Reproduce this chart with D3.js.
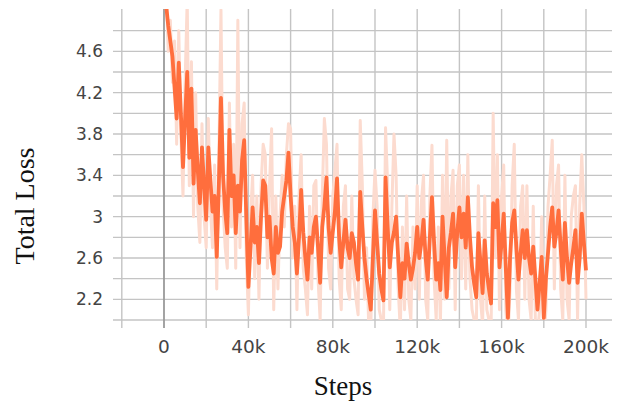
<!DOCTYPE html>
<html><head><meta charset="utf-8">
<script src="https://cdn.jsdelivr.net/npm/d3@7"></script>
<style>body{margin:0;background:#fff}</style></head>
<body><svg id="c" width="617" height="403"></svg>
<script>
const stepSize = 1000;
const smoothed = [5.05,4.85,4.70,4.55,4.25,3.95,4.49,4.00,3.48,3.95,
4.40,3.57,4.24,3.32,3.84,3.45,3.13,3.67,3.30,2.97,
3.67,3.35,3.05,3.20,2.61,3.30,4.15,3.40,3.05,2.84,
3.84,3.20,3.40,2.84,3.30,3.05,3.55,3.74,3.00,2.32,
2.70,3.09,2.75,2.90,2.55,3.00,3.35,3.30,2.80,3.00,
2.60,2.45,2.90,2.65,2.71,3.05,3.20,3.35,3.62,3.20,
2.90,2.75,2.45,2.80,3.26,2.85,2.60,2.39,2.80,2.65,
2.90,3.00,2.70,2.36,2.90,3.10,3.38,2.90,2.65,2.85,
3.05,3.37,2.80,2.51,2.75,2.97,2.70,2.60,2.84,2.75,
2.55,2.39,3.24,2.90,2.60,2.40,2.25,2.10,2.60,3.06,
2.75,2.45,2.30,2.19,3.38,2.90,2.51,2.75,2.85,3.00,
2.60,2.22,2.55,2.40,2.74,2.55,2.39,2.50,2.65,2.90,
2.60,2.75,2.97,2.60,2.39,2.80,3.19,2.75,2.39,2.55,
2.29,3.00,2.60,2.22,2.70,2.85,3.03,2.51,2.85,3.09,
2.80,3.03,2.70,3.19,2.80,2.51,2.35,2.22,2.84,2.55,
2.26,2.77,2.45,2.30,2.16,3.13,2.90,3.16,2.51,2.75,
3.03,2.50,2.02,2.60,2.94,3.06,2.70,2.39,2.65,2.87,
2.60,2.87,2.60,2.45,2.71,2.40,2.10,2.35,2.61,2.02,
2.40,2.65,2.90,3.09,2.71,2.85,3.06,2.70,2.39,2.94,
2.60,2.36,2.55,2.70,2.87,2.36,2.60,3.03,2.75,2.48];
const raw = [5.2,4.6,4.9,4.3,4.7,3.7,4.8,3.8,3.2,4.3,
5.1,3.3,4.5,3.0,4.2,3.1,2.75,3.9,3.0,2.7,
3.95,3.1,2.7,3.5,2.3,3.6,5.0,3.1,2.7,2.5,
4.1,2.9,3.7,2.5,4.9,2.7,3.9,4.1,2.6,2.05,
3.0,3.4,2.4,3.2,2.2,3.3,3.7,3.6,2.5,3.3,
3.85,2.1,3.2,2.3,3.0,3.4,2.9,3.6,3.9,3.85,
2.6,3.1,2.1,3.2,3.6,2.5,2.3,2.05,3.1,2.3,
3.3,3.35,2.4,2.0,3.2,3.95,3.7,2.5,2.3,3.2,
3.45,3.7,2.4,2.1,3.1,3.3,2.3,2.2,3.2,2.4,
2.2,2.05,3.93,3.3,2.2,2.7,1.95,1.9,3.0,3.45,
3.1,2.1,2.0,1.9,3.86,3.3,2.1,3.1,3.8,3.4,
2.3,1.9,2.9,2.1,3.2,2.2,2.0,2.9,2.3,3.3,
2.2,3.15,3.4,2.2,2.0,3.2,3.69,2.4,2.0,2.9,
1.95,3.4,2.2,3.74,2.3,3.2,3.45,2.1,3.3,3.5,
2.4,3.4,2.3,3.6,2.4,2.1,2.0,1.9,3.3,2.2,
1.95,3.2,2.1,2.0,1.85,4.0,2.6,3.6,2.1,3.2,
3.5,2.1,1.8,2.3,3.3,3.7,2.3,2.0,3.1,3.3,
2.2,3.3,2.2,2.0,3.1,2.0,1.85,2.1,3.0,1.8,
2.1,3.1,3.4,3.74,2.3,3.3,3.5,2.3,2.0,3.4,
2.2,2.0,3.0,3.2,3.3,2.0,3.1,3.6,3.1,2.2];
const xTicks = [0,40000,80000,120000,160000,200000];
const xTickLabels = ["0","40k","80k","120k","160k","200k"];
const xGrid = [-20000,0,20000,40000,60000,80000,100000,120000,140000,160000,180000,200000];
const yTicks = [2.2,2.6,3.0,3.4,3.8,4.2,4.6];
const yTickLabels = ["2.2","2.6","3","3.4","3.8","4.2","4.6"];
const yGrid = [2.0,2.2,2.4,2.6,2.8,3.0,3.2,3.4,3.6,3.8,4.0,4.2,4.4,4.6,4.8];

const svg = d3.select("#c");
const L = 113, R = 612, T = 9, B = 320;
const x = d3.scaleLinear().domain([0,200000]).range([164,586]);
const y = d3.scaleLinear().domain([2.0,5.0]).range([B,T+1]);

svg.append("g").selectAll("line").data(yGrid).join("line")
  .attr("x1",L).attr("x2",R).attr("y1",d=>y(d)).attr("y2",d=>y(d))
  .attr("stroke","#c4c4c4").attr("stroke-width",1.4);
svg.append("g").selectAll("line").data(xGrid).join("line")
  .attr("x1",d=>x(d)).attr("x2",d=>x(d)).attr("y1",T).attr("y2",B+8)
  .attr("stroke",d=>d===0?"#9a9a9a":"#c4c4c4").attr("stroke-width",d=>d===0?1.8:1.4);

svg.append("defs").append("clipPath").attr("id","clip").append("rect")
  .attr("x",L).attr("y",T).attr("width",R-L).attr("height",B-T);

const pts = a => a.map((v,i)=>[(i+1)*stepSize, v]);
const line = d3.line().x(d=>x(d[0])).y(d=>y(d[1]));
const g = svg.append("g").attr("clip-path","url(#clip)");
g.append("path").attr("d",line(pts(raw))).attr("fill","none")
  .attr("stroke","#fcdbcf").attr("stroke-width",3).attr("stroke-linejoin","round");
g.append("path").attr("d",line(pts(smoothed))).attr("fill","none")
  .attr("stroke","#ff6e3d").attr("stroke-width",3.8).attr("stroke-linejoin","round");

svg.append("g").selectAll("text").data(yTicks).join("text")
  .attr("x",103).attr("y",d=>y(d)).attr("dy","0.36em").attr("text-anchor","end")
  .attr("font-family","DejaVu Sans, sans-serif").attr("font-size",17).attr("fill","#444")
  .text((d,i)=>yTickLabels[i]);
svg.append("g").selectAll("text").data(xTicks).join("text")
  .attr("x",d=>x(d)).attr("y",353).attr("text-anchor","middle")
  .attr("font-family","DejaVu Sans, sans-serif").attr("font-size",18.5).attr("fill","#444")
  .text((d,i)=>xTickLabels[i]);

svg.append("text").attr("x",343).attr("y",395).attr("text-anchor","middle")
  .attr("font-family","Liberation Serif, Times New Roman, serif").attr("font-size",27).attr("fill","#111")
  .text("Steps");
svg.append("text").attr("transform","translate(34,206) rotate(-90)").attr("text-anchor","middle")
  .attr("font-family","Liberation Serif, Times New Roman, serif").attr("font-size",28).attr("fill","#111")
  .text("Total Loss");
</script></body></html>
